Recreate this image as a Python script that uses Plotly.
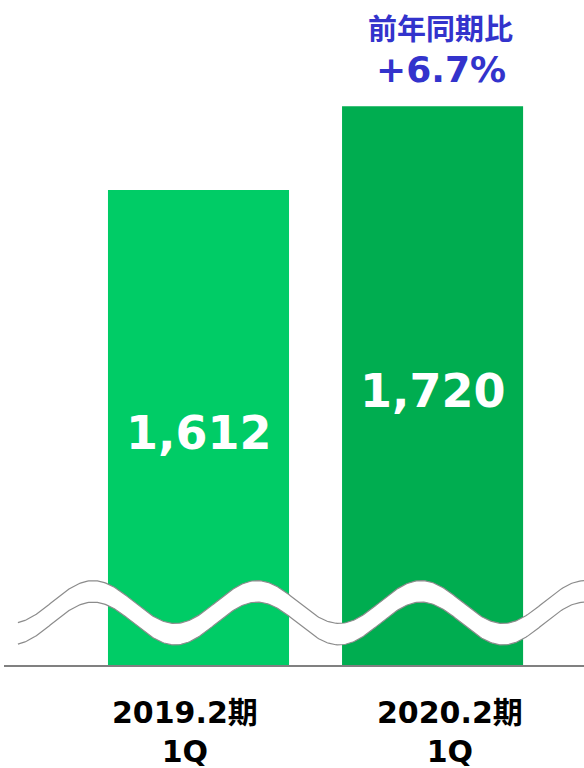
import numpy as np
import plotly.graph_objects as go

categories = ["2019.2期<br>1Q", "2020.2期<br>1Q"]
values = [1612, 1720]
value_labels = ["1,612", "1,720"]
bar_colors = ["#00CC66", "#00AD50"]
growth_title = "前年同期比"
growth_value = "+6.7%"

# axis geometry (broken axis starting at 1000)
W, H = 584, 768
ml, mr, mt, mb = 4, 0, 0, 103
plot_w = W - ml - mr
plot_h = H - mt - mb
y0 = 1000
y1 = y0 + plot_h / 0.7761
xl, xr = -0.831, 1.647

def px_to_x(px):
    return xl + (px - ml) / plot_w * (xr - xl)

def py_to_y(py):
    return y0 + (mt + plot_h - py) / plot_h * (y1 - y0)

xs = list(range(len(values)))
fig = go.Figure()
fig.add_trace(go.Bar(
    x=xs, y=values, width=0.7735,
    marker=dict(color=bar_colors, line=dict(width=0)),
    hoverinfo="skip", showlegend=False,
))

# value labels centred in the visible part of each bar
for i, v in enumerate(values):
    fig.add_annotation(x=xs[i], y=(y0 + v) / 2, xref="x", yref="y",
                       yshift=-5, text="<b>" + value_labels[i] + "</b>", showarrow=False,
                       font=dict(family="DejaVu Sans", size=46, color="white"))

# axis-break wave decoration (two gray curves with white band)
wx = np.linspace(17.9, 584, 400)
period = 164.0
upper = 602 - 21.4 * np.cos(2 * np.pi * (wx - 93.1) / period)
lower = upper + 21.5
fig.add_trace(go.Scatter(x=px_to_x(wx), y=py_to_y(lower), mode="lines",
                         line=dict(color="#8c8c8c", width=1.2),
                         hoverinfo="skip", showlegend=False))
fig.add_trace(go.Scatter(x=px_to_x(wx), y=py_to_y(upper), mode="lines",
                         line=dict(color="#8c8c8c", width=1.2),
                         fill="tonexty", fillcolor="white",
                         hoverinfo="skip", showlegend=False))

# category labels
label_shift = [-14, 17]
for i, c in enumerate(categories):
    fig.add_annotation(x=xs[i], y=0, xref="x", yref="paper", yanchor="top",
                       xshift=label_shift[i], yshift=-28,
                       text="<b>" + c + "</b>", showarrow=False,
                       font=dict(family="DejaVu Sans, Noto Sans CJK JP", size=30, color="black"),
                       align="center")

# growth annotation
fig.add_annotation(x=xs[1], y=1, xref="x", yref="paper", yanchor="middle",
                   xshift=8, yshift=-27, text="<b>" + growth_title + "</b>", showarrow=False,
                   font=dict(family="Noto Sans CJK JP", size=29, color="#3333CC"))
fig.add_annotation(x=xs[1], y=1, xref="x", yref="paper", yanchor="middle",
                   xshift=8, yshift=-69, text="<b>" + growth_value + "</b>", showarrow=False,
                   font=dict(family="DejaVu Sans", size=36, color="#3333CC"))

fig.update_layout(
    width=W, height=H, margin=dict(l=ml, r=mr, t=mt, b=mb),
    paper_bgcolor="white", plot_bgcolor="white",
    xaxis=dict(range=[xl, xr], showgrid=False, zeroline=False, showticklabels=False,
               showline=True, linecolor="#808080", linewidth=2, fixedrange=True),
    yaxis=dict(range=[y0, y1], showgrid=False, zeroline=False, showticklabels=False,
               showline=False, fixedrange=True),
)
fig.write_html("out.html", config={"displayModeBar": False},
               post_script="document.body.style.margin='0';document.body.style.overflow='hidden';")
